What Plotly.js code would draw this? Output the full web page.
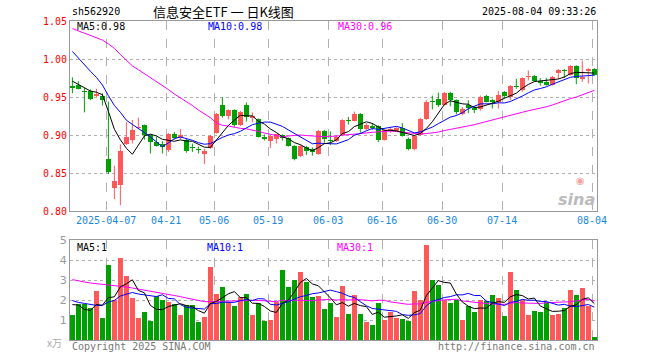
<!DOCTYPE html>
<html><head><meta charset="utf-8">
<script src="https://cdn.plot.ly/plotly-3.0.1.min.js"></script>
<style>html,body{margin:0;padding:0;background:#fff}#chart{width:660px;height:360px}</style>
</head><body><div id="chart"></div>
<script>
const dates = ["2025-03-27","2025-03-28","2025-03-31","2025-04-01","2025-04-02","2025-04-03","2025-04-07","2025-04-08","2025-04-09","2025-04-10","2025-04-11","2025-04-14","2025-04-15","2025-04-16","2025-04-17","2025-04-18","2025-04-21","2025-04-22","2025-04-23","2025-04-24","2025-04-25","2025-04-28","2025-04-29","2025-04-30","2025-05-06","2025-05-07","2025-05-08","2025-05-09","2025-05-12","2025-05-13","2025-05-14","2025-05-15","2025-05-16","2025-05-19","2025-05-20","2025-05-21","2025-05-22","2025-05-23","2025-05-26","2025-05-27","2025-05-28","2025-05-29","2025-05-30","2025-06-03","2025-06-04","2025-06-05","2025-06-06","2025-06-09","2025-06-10","2025-06-11","2025-06-12","2025-06-13","2025-06-16","2025-06-17","2025-06-18","2025-06-19","2025-06-20","2025-06-23","2025-06-24","2025-06-25","2025-06-26","2025-06-27","2025-06-30","2025-07-01","2025-07-02","2025-07-03","2025-07-04","2025-07-07","2025-07-08","2025-07-09","2025-07-10","2025-07-11","2025-07-14","2025-07-15","2025-07-16","2025-07-17","2025-07-18","2025-07-21","2025-07-22","2025-07-23","2025-07-24","2025-07-25","2025-07-28","2025-07-29","2025-07-30","2025-07-31","2025-08-01","2025-08-04"];

const openP  = [0.964,0.966,0.958,0.958,0.951,0.952,0.869,0.831,0.835,0.888,0.894,0.909,0.914,0.900,0.891,0.888,0.881,0.902,0.896,0.894,0.884,0.882,0.875,0.883,0.903,0.939,0.925,0.933,0.914,0.940,0.923,0.921,0.898,0.893,0.895,0.900,0.896,0.886,0.872,0.885,0.882,0.875,0.906,0.893,0.892,0.900,0.919,0.919,0.928,0.908,0.912,0.912,0.894,0.905,0.906,0.910,0.895,0.882,0.900,0.921,0.944,0.947,0.940,0.956,0.946,0.928,0.939,0.936,0.934,0.952,0.946,0.943,0.957,0.950,0.965,0.959,0.976,0.978,0.971,0.970,0.966,0.982,0.986,0.979,0.991,0.974,0.984,0.987];
const highP  = [0.976,0.971,0.962,0.960,0.961,0.955,0.944,0.860,0.888,0.917,0.920,0.923,0.914,0.901,0.898,0.892,0.903,0.904,0.908,0.895,0.889,0.885,0.882,0.900,0.929,0.950,0.934,0.934,0.932,0.943,0.930,0.922,0.901,0.900,0.902,0.901,0.897,0.887,0.887,0.886,0.884,0.907,0.907,0.905,0.900,0.921,0.924,0.931,0.929,0.916,0.916,0.913,0.908,0.910,0.911,0.916,0.897,0.900,0.923,0.946,0.952,0.956,0.957,0.957,0.947,0.937,0.946,0.938,0.952,0.953,0.948,0.958,0.958,0.966,0.974,0.976,0.985,0.979,0.975,0.975,0.978,0.987,0.987,0.992,0.992,0.998,0.988,0.988];
const lowP   = [0.955,0.960,0.930,0.946,0.950,0.939,0.849,0.816,0.808,0.887,0.889,0.908,0.894,0.876,0.885,0.876,0.878,0.894,0.895,0.877,0.878,0.876,0.862,0.882,0.902,0.923,0.921,0.911,0.912,0.918,0.917,0.897,0.893,0.883,0.889,0.893,0.885,0.867,0.871,0.874,0.873,0.874,0.890,0.887,0.891,0.899,0.914,0.918,0.903,0.906,0.907,0.891,0.893,0.903,0.905,0.898,0.880,0.880,0.899,0.920,0.934,0.937,0.939,0.938,0.927,0.926,0.929,0.929,0.932,0.943,0.935,0.935,0.948,0.946,0.961,0.957,0.972,0.970,0.965,0.965,0.965,0.974,0.975,0.978,0.967,0.970,0.968,0.978];
const closeP = [0.962,0.961,0.957,0.948,0.954,0.946,0.851,0.840,0.879,0.898,0.907,0.911,0.900,0.891,0.886,0.885,0.902,0.896,0.900,0.879,0.883,0.880,0.879,0.899,0.928,0.925,0.933,0.914,0.931,0.924,0.925,0.898,0.895,0.899,0.901,0.896,0.886,0.869,0.886,0.879,0.878,0.906,0.895,0.892,0.898,0.920,0.918,0.928,0.908,0.914,0.909,0.894,0.907,0.908,0.910,0.899,0.882,0.899,0.921,0.943,0.943,0.939,0.955,0.946,0.931,0.935,0.936,0.933,0.950,0.944,0.943,0.953,0.952,0.965,0.963,0.975,0.978,0.971,0.969,0.966,0.977,0.986,0.984,0.991,0.975,0.976,0.987,0.979];
const volume = [1.25,1.82,1.78,1.58,2.43,1.08,3.73,1.98,4.08,3.18,2.08,1.08,1.38,0.93,2.20,1.98,1.88,1.78,1.23,1.73,1.73,0.88,1.13,3.63,2.28,2.63,1.88,1.68,2.13,2.28,1.23,1.83,0.93,0.98,1.92,3.48,2.65,2.98,3.38,2.88,2.13,2.18,1.53,1.83,1.13,2.68,1.28,2.23,1.28,0.88,0.73,1.83,0.98,1.38,1.08,1.03,0.93,2.43,1.98,4.73,2.98,2.73,1.98,1.83,1.98,0.98,1.68,1.38,1.98,1.93,2.23,2.08,1.18,3.38,2.48,1.98,1.23,1.43,1.38,1.88,1.23,1.28,1.58,2.48,2.23,2.58,1.68,0.13];

// moving-average values for the days before each window is complete
const priceMA5Lead  = [0.971,0.967,0.962,0.958];
const priceMA10Lead = [1.010,1.001,0.993,0.984,0.976,0.966,0.952,0.939,0.930];
const priceMA30Lead = [1.040,1.037,1.034,1.031,1.028,1.025,1.020,1.014,1.006,0.998,0.991,0.986,0.981,0.975,0.970,0.966,0.960,0.954,0.949,0.945,0.939,0.933,0.928,0.923,0.916,0.913,0.912,0.910,0.909];
const volMA5Lead  = [1.77,1.75,1.53,1.48];
const volMA10Lead = [1.97,1.88,1.83,1.78,1.73,1.73,1.90,1.98,2.20];
const volMA30Lead = [3.02,2.95,2.90,2.85,2.82,2.78,2.75,2.72,2.68,2.65,2.60,2.55,2.50,2.45,2.40,2.35,2.28,2.23,2.17,2.10,2.03,1.97,1.92,1.92,1.93,1.95,1.97,1.97,1.98];

const tickDates  = ["2025-04-07","2025-04-21","2025-05-06","2025-05-19","2025-06-03","2025-06-16","2025-06-30","2025-07-14","2025-08-04"];
const tickLabels = ["2025-04-07","04-21","05-06","05-19","06-03","06-16","06-30","07-14","08-04"];
const priceTicks = [0.80,0.85,0.90,0.95,1.00,1.05];
const volTicks = [1,2,3,4,5];

const code = "sh562920";
const titleText = "信息安全ETF 一 日K线图";
const stamp = "2025-08-04 09:33:26";
const maLabels = ["MA5:0.98","MA10:0.98","MA30:0.96"];
const volMaLabels = ["MA5:1","MA10:1","MA30:1"];

// ---------- drawing ----------
const RED = '#ff5858', GREEN = '#00a000';
const MONO = 'DejaVu Sans Mono, Liberation Mono, monospace';
const xs = dates.map((d, i) => i);

function movingAvg(arr, n, lead) {
  return arr.map((v, i) => {
    if (i < n - 1) return lead[i];
    let s = 0; for (let k = i - n + 1; k <= i; k++) s += arr[k];
    return s / n;
  });
}

const up = closeP.map((c, i) => c >= openP[i]);
function pick(arr, cond) { return arr.map((v, i) => cond(i) ? v : null); }

function wicks(isUp) {
  const x = [], y = [];
  xs.forEach(i => { if (up[i] === isUp) { x.push(i, i, null); y.push(lowP[i], highP[i], null); } });
  return {type: 'scatter', mode: 'lines', x, y, xaxis: 'x', yaxis: 'y', hoverinfo: 'skip',
    line: {color: isUp ? RED : GREEN, width: 1}, showlegend: false};
}
function bodies(isUp) {
  const x = [], base = [], h = [];
  xs.forEach(i => {
    if (up[i] === isUp) {
      x.push(i);
      base.push(Math.min(openP[i], closeP[i]));
      h.push(Math.max(Math.abs(closeP[i] - openP[i]), 0.0015));
    }
  });
  return {type: 'bar', x, y: h, base, width: 0.82, xaxis: 'x', yaxis: 'y',
    marker: {color: isUp ? RED : GREEN, line: {width: 0}}, showlegend: false, hoverinfo: 'skip'};
}
function volBars(isUp) {
  return {type: 'bar', x: xs, y: pick(volume, i => up[i] === isUp), width: 0.88, xaxis: 'x2', yaxis: 'y2',
    marker: {color: isUp ? RED : GREEN, line: {width: 0}}, showlegend: false, hoverinfo: 'skip'};
}
function line(y, color, xa, ya) {
  return {type: 'scatter', mode: 'lines', x: xs, y, xaxis: xa, yaxis: ya,
    line: {color, width: 1}, showlegend: false, hoverinfo: 'skip'};
}

const traces = [
  wicks(true), wicks(false), bodies(true), bodies(false),
  line(movingAvg(closeP, 30, priceMA30Lead), '#ff00ff', 'x', 'y'),
  line(movingAvg(closeP, 10, priceMA10Lead), '#0000ff', 'x', 'y'),
  line(movingAvg(closeP, 5, priceMA5Lead), '#000000', 'x', 'y'),
  volBars(true), volBars(false),
  line(movingAvg(volume, 30, volMA30Lead), '#ff00ff', 'x2', 'y2'),
  line(movingAvg(volume, 10, volMA10Lead), '#0000ff', 'x2', 'y2'),
  line(movingAvg(volume, 5, volMA5Lead), '#000000', 'x2', 'y2')
];

const L = 70, R = 597, T = 21, B = 340;
const px = p => (p - L) / (R - L);
const py = p => (B - p) / (B - T);
function ann(text, x, y, opts) {
  return Object.assign({text, x: px(x), y: py(y), xref: 'paper', yref: 'paper', showarrow: false,
    xanchor: 'left', yanchor: 'middle', font: {family: MONO, size: 10, color: '#000'}}, opts || {});
}

const tickPos = tickDates.map(d => dates.indexOf(d) - 0.37);
const gridCol = '#b0b0b0';
const xCommon = {range: [-0.4, 87.45], tickvals: tickPos, showgrid: true, gridcolor: gridCol,
  griddash: 'dash', gridwidth: 1, zeroline: false, showline: true, mirror: true, linecolor: '#999',
  linewidth: 1, ticks: '', fixedrange: true};

const layout = {
  width: 660, height: 360,
  margin: {l: L, r: 660 - R, t: T, b: 360 - B},
  paper_bgcolor: '#fff', plot_bgcolor: '#fff',
  barmode: 'overlay', bargap: 0,
  font: {family: MONO, size: 10},
  xaxis: Object.assign({}, xCommon, {anchor: 'y', ticktext: tickLabels,
    tickfont: {family: MONO, size: 10, color: '#1a88e0'}}),
  yaxis: {domain: [(B - 211.3) / (B - T), 1], range: [0.80, 1.05], tickvals: priceTicks,
    ticktext: priceTicks.map(v => v.toFixed(2)), tickfont: {family: MONO, size: 10, color: '#ff0000'},
    showgrid: true, gridcolor: gridCol, griddash: 'dot', zeroline: false, showline: true, mirror: true,
    linecolor: '#999', ticks: '', ticklabelstandoff: 0, anchor: 'x', fixedrange: true},
  xaxis2: Object.assign({}, xCommon, {anchor: 'y2', matches: 'x', showticklabels: false}),
  yaxis2: {domain: [0, (B - 240) / (B - T)], range: [0, 5], tickvals: volTicks,
    ticktext: volTicks.map(String), tickfont: {family: 'DejaVu Sans', size: 11, color: '#999'},
    showgrid: true, gridcolor: gridCol, griddash: 'dot', zeroline: false, showline: true, mirror: true,
    linecolor: '#999', ticks: '', ticklabelstandoff: 0, anchor: 'x2', fixedrange: true},
  annotations: [
    ann(code, 70, 12),
    ann(titleText, 151, 12, {font: {family: 'Noto Sans CJK SC', size: 13, color: '#000'}}),
    ann(stamp, 598, 12, {xanchor: 'right'}),
    ann(maLabels[0], 75, 26.5, {font: {family: MONO, size: 10, color: '#000'}}),
    ann(maLabels[1], 205.5, 26.5, {font: {family: MONO, size: 10, color: '#0000ff'}}),
    ann(maLabels[2], 335.5, 26.5, {font: {family: MONO, size: 10, color: '#ff00ff'}}),
    ann(volMaLabels[0], 75, 247.5, {font: {family: MONO, size: 10, color: '#000'}}),
    ann(volMaLabels[1], 205, 247.5, {font: {family: MONO, size: 10, color: '#0000ff'}}),
    ann(volMaLabels[2], 335, 247.5, {font: {family: MONO, size: 10, color: '#ff00ff'}}),
    ann('x万', 64, 342, {xanchor: 'right', font: {family: 'Noto Sans CJK SC', size: 10, color: '#aaa'}}),
    ann('Copyright 2025 SINA.COM', 70, 346, {font: {family: MONO, size: 10, color: '#777'}}),
    ann('http://finance.sina.com.cn', 597, 346, {xanchor: 'right', font: {family: MONO, size: 10, color: '#777'}}),
    ann('◉', 580, 181, {xanchor: 'center', font: {family: 'DejaVu Sans', size: 10, color: '#f3a0a0'}}),
    ann('sina', 597, 200, {xanchor: 'right', font: {family: 'DejaVu Sans', size: 16, color: '#bbb', weight: 'bold', style: 'italic'}})
  ]
};

Plotly.newPlot('chart', traces, layout, {staticPlot: true, displayModeBar: false});
</script></body></html>
